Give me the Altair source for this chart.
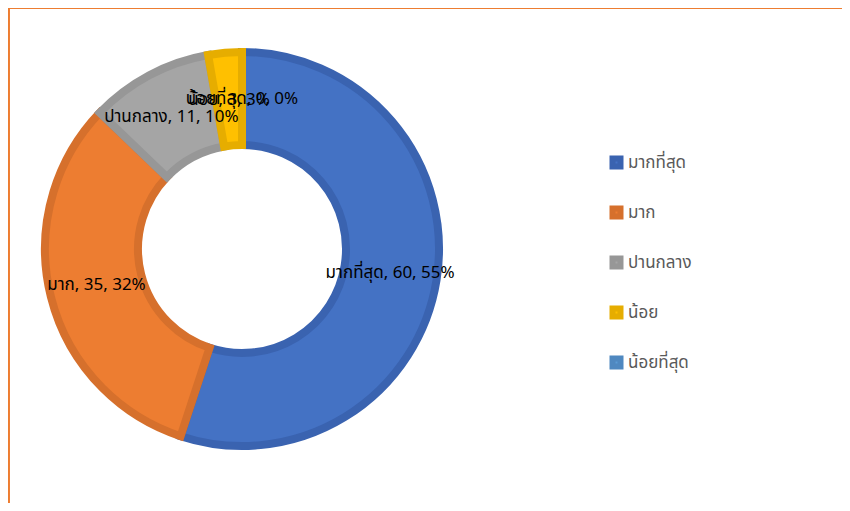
import altair as alt
import pandas as pd

categories = ["มากที่สุด", "มาก", "ปานกลาง", "น้อย", "น้อยที่สุด"]
counts = [60, 35, 11, 3, 0]
percents = ["55%", "32%", "10%", "3%", "0%"]
fill_colors = ["#4472C4", "#ED7D31", "#A5A5A5", "#FFC000", "#5B9BD5"]
stroke_colors = ["#3A63B0", "#D6702C", "#979797", "#E6AD00", "#4F88C0"]

df = pd.DataFrame({
    "cat": categories,
    "n": counts,
    "order": list(range(len(categories))),
    "label": [f"{c}, {n}, {p}" for c, n, p in zip(categories, counts, percents)],
})

FONT = "Tahoma, 'Noto Sans Thai', 'Noto Sans', 'DejaVu Sans', sans-serif"
CX, CY = 234, 241

legend_cfg = dict(title=None, orient="none", legendX=600, legendY=146,
                  symbolType="square", symbolSize=64, symbolStrokeWidth=6,
                  labelFontSize=17, labelColor="#595959", labelFont=FONT,
                  rowPadding=17, labelOffset=3)

base = alt.Chart(df).encode(
    theta=alt.Theta("n:Q", stack=True),
    order=alt.Order("order:Q"),
)

arcs = base.mark_arc(radius=197, radius2=104, strokeWidth=8, strokeJoin="miter").encode(
    x=alt.value(CX), y=alt.value(CY),
    fill=alt.Fill("cat:N", scale=alt.Scale(domain=categories, range=fill_colors),
                  legend=alt.Legend(**legend_cfg)),
    stroke=alt.Stroke("cat:N", scale=alt.Scale(domain=categories, range=stroke_colors),
                      legend=alt.Legend(**legend_cfg)),
    strokeOpacity=alt.condition("datum.n > 0", alt.value(1), alt.value(0)),
)

labels = base.mark_text(radius=150, fontSize=17, font=FONT, color="#000000").encode(
    x=alt.value(CX), y=alt.value(CY),
    text="label:N",
)

frame_top = alt.Chart(df).mark_rule(color="#ED7D31", strokeWidth=2).encode(
    x=alt.value(0), x2=alt.value(834), y=alt.value(0)
)
frame_left = alt.Chart(df).mark_rule(color="#ED7D31", strokeWidth=3).encode(
    x=alt.value(0), y=alt.value(0), y2=alt.value(495)
)

chart = alt.layer(arcs, labels, frame_top, frame_left).properties(
    width=834, height=495, padding=0, autosize="none"
).configure_view(stroke=None)

chart.save("out.html", embed_options={"renderer": "svg", "actions": False})
